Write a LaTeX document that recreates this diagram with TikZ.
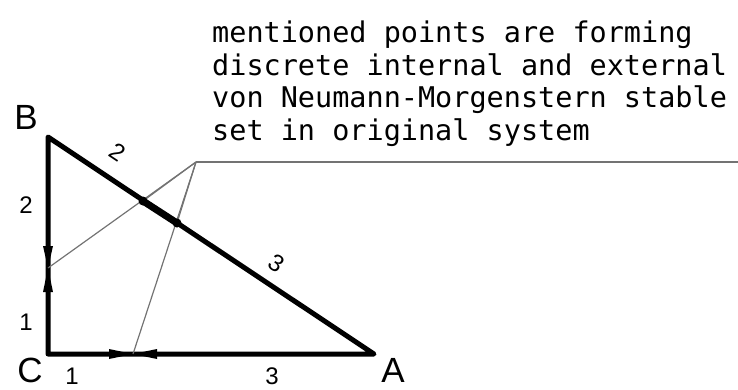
\documentclass[tikz,border=0pt]{standalone}
\usepackage{fontspec}
\setmainfont{Liberation Sans}
\newfontfamily\monofnt{DejaVu Sans Mono}
\begin{document}
\begin{tikzpicture}[x=1pt,y=1pt,
  side/.style={line width=5pt, line cap=round, line join=round},
  thinline/.style={line width=1.2pt, draw=black!55},
  vlabel/.style={font=\fontsize{35}{35}\selectfont, inner sep=0pt},
  nlabel/.style={font=\fontsize{24}{24}\selectfont, inner sep=0pt}]
\useasboundingbox (0,0) rectangle (738,-389);
\coordinate (B) at (48,-137);
\coordinate (C) at (48,-354);
\coordinate (A) at (374,-354);
\coordinate (O) at (196,-162);
\coordinate (E) at (738,-162);
\coordinate (P) at (48,-268);
\coordinate (Q) at (133,-354);
\coordinate (R) at (143,-201);
\coordinate (S) at (177,-223);
% triangle
\draw[side] (B) -- (C) -- (A) -- cycle;
% pointer lines
\draw[thinline] (E) -- (O);
\draw[thinline] (O) -- (P);
\draw[thinline] (O) -- (R);
\draw[thinline] (O) -- (S);
\draw[thinline] (O) -- (Q);
% arrowheads into the points
\fill (P) -- ++(-5,22) -- ++(10,0) -- cycle;
\fill (P) -- ++(-5,-24) -- ++(10,0) -- cycle;
\fill (Q) -- ++(-24,5) -- ++(0,-10) -- cycle;
\fill (Q) -- ++(24,5) -- ++(0,-10) -- cycle;
\draw[line width=7pt] (R) -- (S);
\fill (R) circle (4.5pt);
\fill (S) circle (4.5pt);
% labels
\node[vlabel] (lB) at (26,-117) {B};
\node[vlabel] (lC) at (30,-370) {C};
\node[vlabel] (lA) at (393,-370) {A};
\node[nlabel] (n1) at (26,-205) {2};
\node[nlabel] (n2) at (26,-322) {1};
\node[nlabel] (n3) at (72,-376) {1};
\node[nlabel] (n4) at (272,-376) {3};
\node[nlabel, rotate=-33.6] (n5) at (118,-152) {2};
\node[nlabel, rotate=-33.6] (n6) at (277,-263) {3};
\node[font=\monofnt\fontsize{28.5}{32.5}\selectfont, align=left, anchor=north west, inner sep=0pt] (txt) at (212,-21)
 {mentioned points are forming\\discrete internal and external\\von Neumann-Morgenstern stable\\set in original system};
\end{tikzpicture}
\end{document}
